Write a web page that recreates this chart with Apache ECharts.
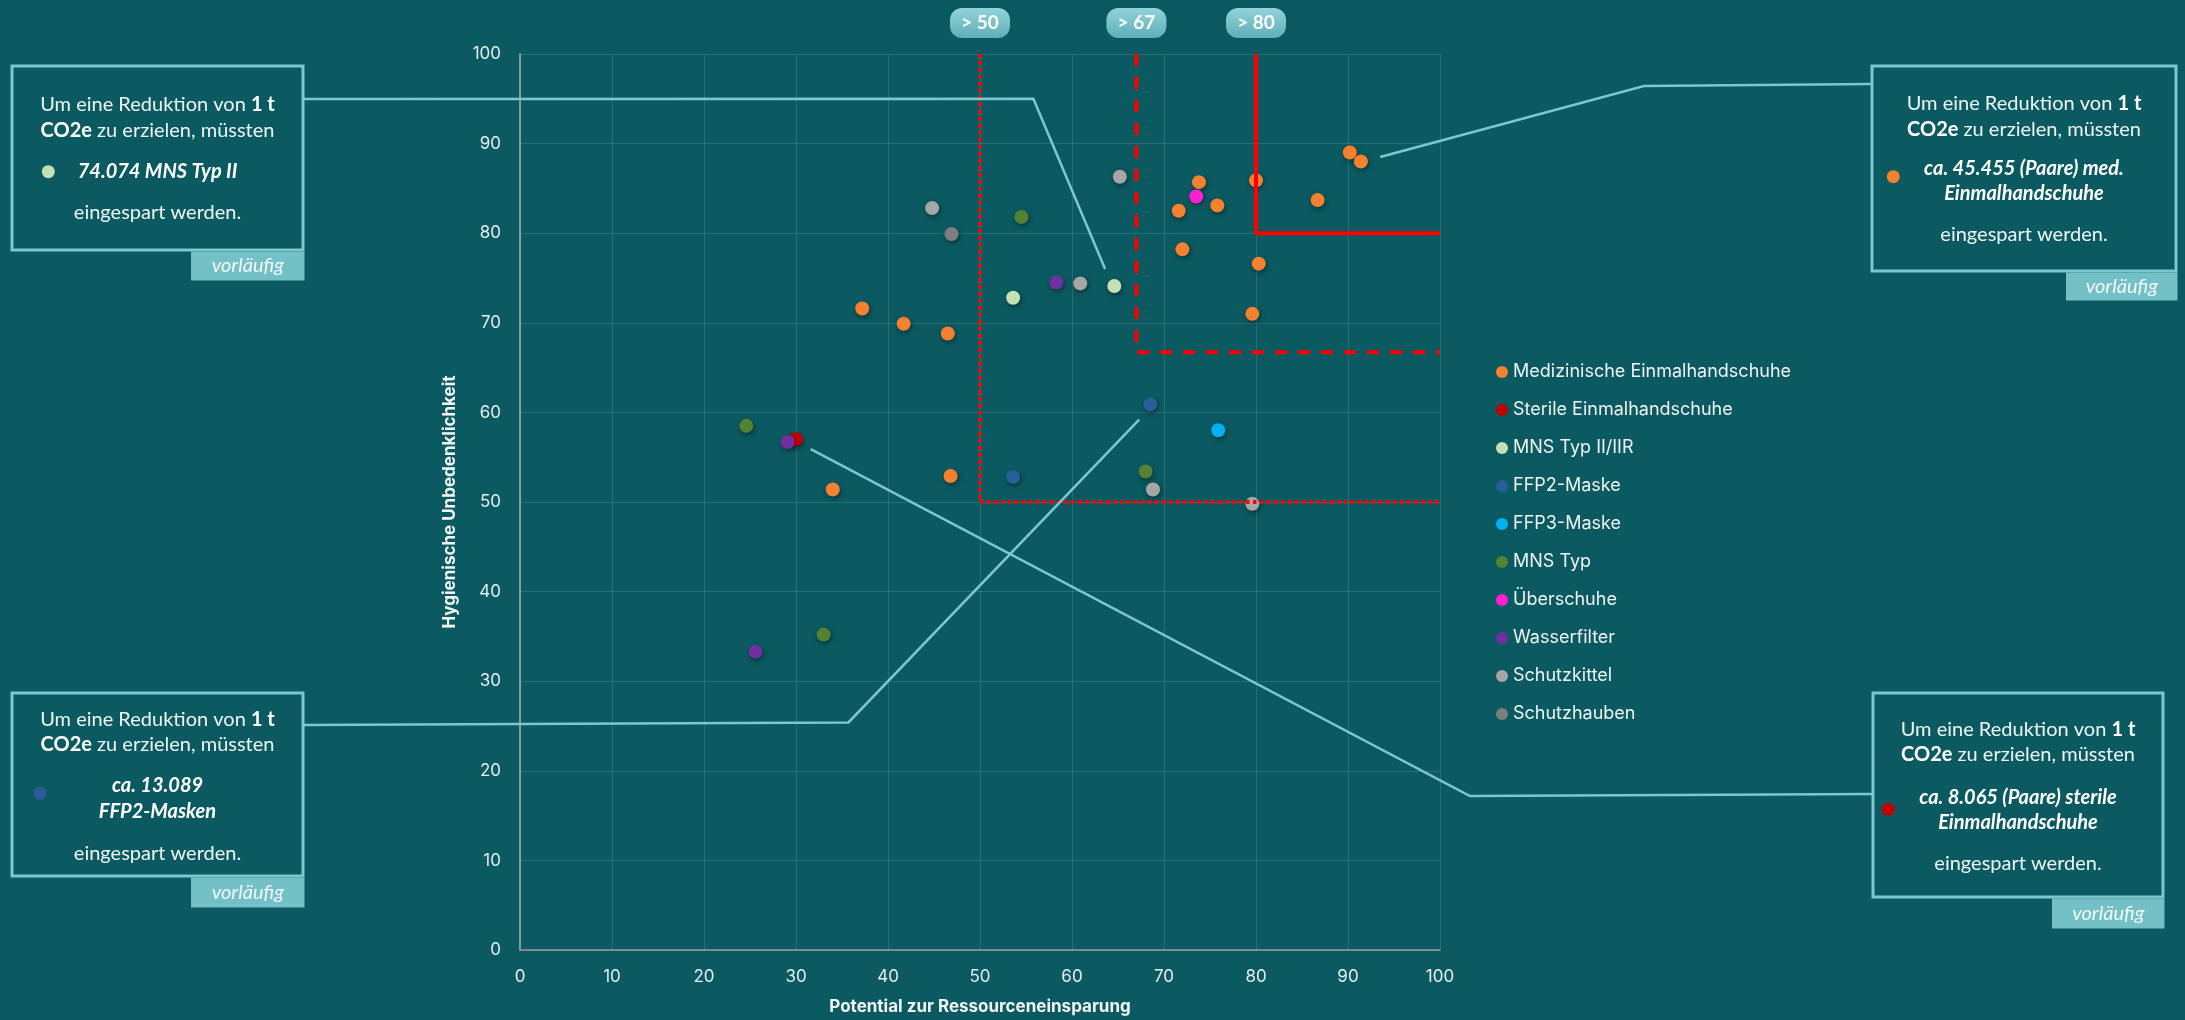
<!DOCTYPE html>
<html>
<head>
<meta charset="utf-8">
<script src="https://cdn.jsdelivr.net/npm/echarts@6/dist/echarts.min.js"></script>
<style>
  html, body { margin: 0; padding: 0; background: #0b5a61; }
  #main { width: 2185px; height: 1020px; }
</style>
</head>
<body>
<div id="main"></div>
<script>
// --- data ---
const seriesNames = [
  'Medizinische Einmalhandschuhe', 'Sterile Einmalhandschuhe', 'MNS Typ II/IIR',
  'FFP2-Maske', 'FFP3-Maske', 'MNS Typ', 'Überschuhe', 'Wasserfilter',
  'Schutzkittel', 'Schutzhauben'
];
const seriesColors = [
  '#f4812f', '#c00000', '#c5e0b4', '#2a5e98', '#00b0f0',
  '#548235', '#ff1fd2', '#7030a0', '#a6a6a6', '#7f7f7f'
];

const medEinmalhandschuhe = [
  [37.2, 71.6], [41.7, 69.9], [46.5, 68.8], [46.8, 52.9], [34.0, 51.4],
  [73.8, 85.7], [71.6, 82.5], [75.8, 83.1], [80.0, 85.9], [90.2, 89.0],
  [91.4, 88.0], [86.7, 83.7], [72.0, 78.2], [80.3, 76.6], [79.6, 71.0]
];
const sterileEinmalhandschuhe = [[30.0, 57.0]];
const mnsTypII = [[53.6, 72.8], [64.6, 74.1]];
const ffp2 = [[53.6, 52.8], [68.5, 60.9]];
const ffp3 = [[75.9, 58.0]];
const mnsTyp = [[24.6, 58.5], [54.5, 81.8], [33.0, 35.2], [68.0, 53.4]];
const ueberschuhe = [[73.5, 84.1]];
const wasserfilter = [[29.1, 56.7], [25.6, 33.3], [58.3, 74.5]];
const schutzkittel = [[44.8, 82.8], [65.2, 86.3], [60.9, 74.4], [68.8, 51.4], [79.6, 49.8]];
const schutzhauben = [[46.9, 79.9]];

const seriesData = [
  medEinmalhandschuhe, sterileEinmalhandschuhe, mnsTypII, ffp2, ffp3,
  mnsTyp, ueberschuhe, wasserfilter, schutzkittel, schutzhauben
];

const axisTicks = [0, 10, 20, 30, 40, 50, 60, 70, 80, 90, 100];

// threshold zones
const thresholdValues = [50, 67, 80];
const thresholdLabels = ['> 50', '> 67', '> 80'];
const zoneDotted = [[50, 100], [50, 50], [100, 50]];
const zoneDashed = [[67, 100], [67, 66.7], [100, 66.7]];
const zoneSolid = [[80, 100], [80, 80], [100, 80]];

// callout leader lines: 'd' = data point, 'p' = pixel on page
const calloutLines = [
  [['p', 303, 99], ['d', 55.8, 95.0], ['d', 63.6, 76.0]],
  [['d', 93.5, 88.5], ['p', 1644, 86], ['p', 1872, 84]],
  [['p', 303, 725], ['d', 35.7, 25.4], ['d', 67.3, 59.2]],
  [['d', 31.6, 55.9], ['p', 1470, 796], ['p', 1873, 794]]
];

const calloutTexts = [
  ['74.074 MNS Typ II'],
  ['ca. 45.455 (Paare) med.', 'Einmalhandschuhe'],
  ['ca. 13.089', 'FFP2-Masken'],
  ['ca. 8.065 (Paare) sterile', 'Einmalhandschuhe']
];
const calloutColors = ['#c5e0b4', '#f4812f', '#2a5e98', '#c00000'];

var chart = echarts.init(document.getElementById('main'));

var txt = '#e4eded';
var font = 'Inter';

var series = seriesNames.map((name, i) => ({
  name: name,
  type: 'scatter',
  data: seriesData[i],
  symbolSize: 14,
  z: 2,
  itemStyle: {
    color: seriesColors[i],
    opacity: 1,
    shadowBlur: 5,
    shadowOffsetX: 1,
    shadowOffsetY: 2,
    shadowColor: 'rgba(0,0,0,0.45)'
  }
}));

function zoneLine(data, type, width) {
  return {
    type: 'line',
    data: data,
    symbol: 'none',
    silent: true,
    z: 5,
    lineStyle: { color: '#ff0000', width: width, type: type }
  };
}
series.push(zoneLine(zoneDotted, [3.5, 3.5], 4));
series.push(zoneLine(zoneDashed, [12, 11], 4));
series.push(zoneLine(zoneSolid, 'solid', 4));

var option = {
  backgroundColor: '#0b5a61',
  animation: false,
  grid: { left: 520, right: 745, top: 54, bottom: 69 },
  xAxis: {
    type: 'value', min: 0, max: 100, interval: 10,
    name: 'Potential zur Ressourceneinsparung',
    nameLocation: 'middle', nameGap: 48,
    nameTextStyle: { color: '#f2f5f5', fontSize: 17, fontWeight: 'bold', fontFamily: font },
    axisLine: { show: true, lineStyle: { color: '#a09a98', width: 1.5 } },
    axisTick: { show: false },
    axisLabel: {
      margin: 18, color: txt, fontSize: 17, fontFamily: font,
      formatter: (v) => axisTicks.includes(v) ? String(v) : ''
    },
    splitLine: { show: true, lineStyle: { color: 'rgba(255,255,255,0.12)', width: 1 } }
  },
  yAxis: {
    type: 'value', min: 0, max: 100, interval: 10,
    name: 'Hygienische Unbedenklichkeit',
    nameLocation: 'middle', nameGap: 62,
    nameTextStyle: { color: '#f2f5f5', fontSize: 17, fontWeight: 'bold', fontFamily: font },
    axisLine: { show: true, lineStyle: { color: '#9db5b7', width: 1.5 } },
    axisTick: { show: false },
    axisLabel: { margin: 19, color: txt, fontSize: 17, fontFamily: font },
    splitLine: { show: true, lineStyle: { color: 'rgba(255,255,255,0.12)', width: 1 } }
  },
  legend: {
    data: seriesNames,
    orient: 'vertical',
    left: 1491, top: 357,
    icon: 'circle',
    itemWidth: 12, itemHeight: 12, itemGap: 18,
    textStyle: { color: '#eef3f3', fontSize: 18, fontFamily: font, lineHeight: 20 }
  },
  series: series
};

chart.setOption(option);

// --- annotations drawn on top ---
var px = (x, y) => chart.convertToPixel({ gridIndex: 0 }, [x, y]);
var graphics = [];

// leader lines
calloutLines.forEach((pts) => {
  graphics.push({
    type: 'polyline', z: 10, silent: true,
    shape: { points: pts.map((p) => p[0] === 'd' ? px(p[1], p[2]) : [p[1], p[2]]) },
    style: { stroke: '#7cc8ce', lineWidth: 2.5, fill: null }
  });
});

// threshold pills
thresholdValues.forEach((v, i) => {
  var c = px(v, 100)[0];
  graphics.push({
    type: 'rect', z: 10, silent: true,
    shape: { x: c - 30, y: 8, width: 60, height: 30, r: 12 },
    style: {
      fill: new echarts.graphic.LinearGradient(0, 0, 0, 1, [
        { offset: 0, color: '#92d3d9' }, { offset: 1, color: '#5eafb7' }
      ])
    }
  });
  graphics.push({
    type: 'text', z: 11, silent: true, x: c, y: 23,
    style: { text: thresholdLabels[i], fill: '#ffffff', font: 'bold 19px Lato', align: 'center', verticalAlign: 'middle' }
  });
});

// callout boxes (layout in page pixels)
var boxes = [
  { x: 12, y: 66, w: 291, h: 184, tabX: 191, tabH: 29, cx: 157.5, ys: [105, 131, 171.7, 213], bx: 48.3, by: 171.7 },
  { x: 1872, y: 66, w: 304, h: 205, tabX: 2066, tabH: 28, cx: 2024, ys: [103.3, 130, 168.3, 194, 235], bx: 1893.3, by: 176.7 },
  { x: 12, y: 693, w: 291, h: 183, tabX: 191, tabH: 30, cx: 157.5, ys: [719.3, 745, 786, 812, 853.3], bx: 40, by: 793.3 },
  { x: 1873, y: 693, w: 290, h: 204, tabX: 2052, tabH: 30, cx: 2018, ys: [730, 755, 797.3, 822.7, 863.3], bx: 1888.3, by: 809.3 }
];

var rich = {
  n: { fontSize: 20, fontFamily: 'Lato', fill: '#eef5f5' },
  b: { fontSize: 20, fontFamily: 'Lato', fontWeight: 'bold', fill: '#ffffff' }
};

boxes.forEach((b, i) => {
  graphics.push({
    type: 'rect', z: 12, silent: true,
    shape: { x: b.x, y: b.y, width: b.w, height: b.h },
    style: { fill: '#0b5a61', stroke: '#7cc8ce', lineWidth: 3 }
  });
  var tabW = b.x + b.w - b.tabX + 1.5;
  graphics.push({
    type: 'rect', z: 12, silent: true,
    shape: { x: b.tabX, y: b.y + b.h + 1.5, width: tabW, height: b.tabH },
    style: { fill: '#74c0c7' }
  });
  graphics.push({
    type: 'text', z: 13, silent: true, x: b.tabX + tabW / 2, y: b.y + b.h + 1.5 + b.tabH / 2,
    style: { text: 'vorläufig', fill: '#f2f9f9', font: 'italic 20px Lato', align: 'center', verticalAlign: 'middle' }
  });
  var lines = ['{n|Um eine Reduktion von }{b|1 t}', '{b|CO2e}{n| zu erzielen, müssten}'];
  lines.forEach((t, k) => {
    graphics.push({
      type: 'text', z: 13, silent: true, x: b.cx, y: b.ys[k],
      style: { text: t, rich: rich, align: 'center', verticalAlign: 'middle' }
    });
  });
  calloutTexts[i].forEach((t, k) => {
    graphics.push({
      type: 'text', z: 13, silent: true, x: b.cx, y: b.ys[2 + k],
      style: { text: t, fill: '#ffffff', font: 'italic bold 20px Lato', align: 'center', verticalAlign: 'middle' }
    });
  });
  graphics.push({
    type: 'text', z: 13, silent: true, x: b.cx, y: b.ys[b.ys.length - 1],
    style: { text: 'eingespart werden.', fill: '#eef5f5', font: '20px Lato', align: 'center', verticalAlign: 'middle' }
  });
  graphics.push({
    type: 'circle', z: 13, silent: true,
    shape: { cx: b.bx, cy: b.by, r: 6.5 },
    style: { fill: calloutColors[i] }
  });
});

chart.setOption({ graphic: graphics });

window.onresize = function () {
  chart.resize();
};
</script>
</body>
</html>
